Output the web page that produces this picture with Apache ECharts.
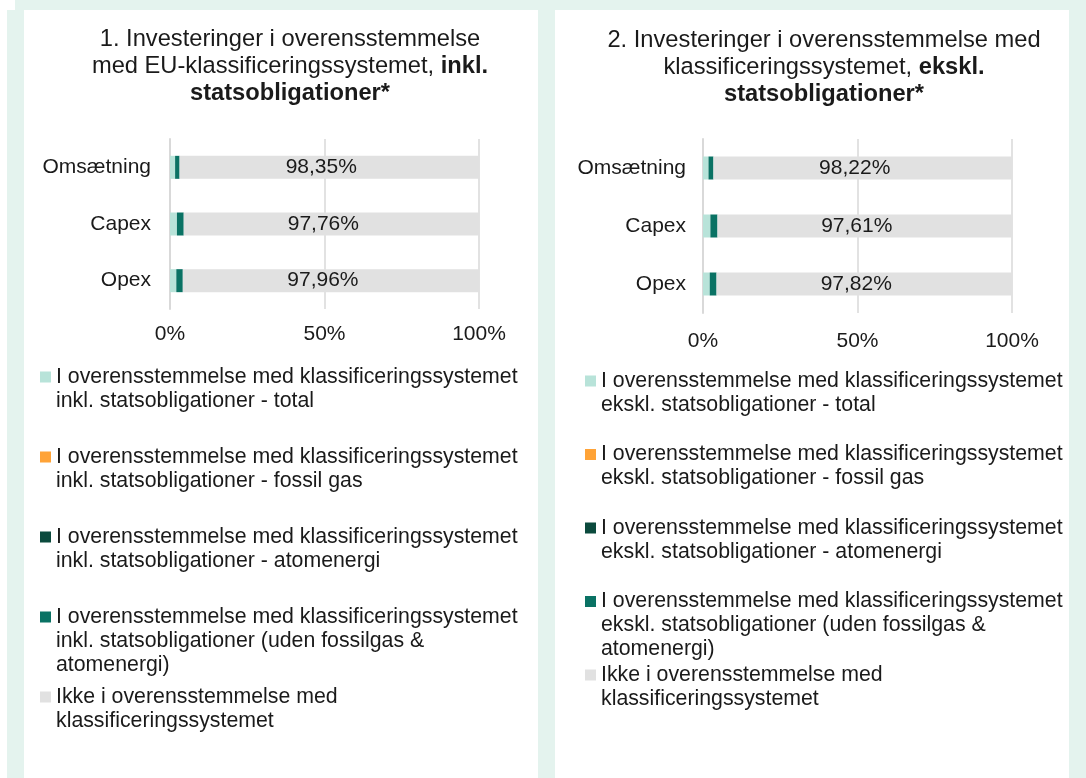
<!DOCTYPE html>
<html>
<head>
<meta charset="utf-8">
<title>Investeringer i overensstemmelse med klassificeringssystemet</title>
<script src="https://cdn.jsdelivr.net/npm/echarts@6/dist/echarts.min.js"></script>
<style>
  html, body { margin: 0; padding: 0; background: #ffffff; }
  #main { width: 1086px; height: 778px; }
</style>
</head>
<body>
<div id="main"></div>
<script>
// kategorier og akse
const categories = ['Omsætning', 'Capex', 'Opex'];
const xTicks = [0, 50, 100];

// panel 1 - inkl. statsobligationer
const p1Total = [1.65, 2.24, 2.04];
const p1Fossil = [0, 0, 0];
const p1Atom = [0, 0, 0];
const p1Uden = [1.45, 2.2, 2.1];
const p1Ikke = [98.35, 97.76, 97.96];

// panel 2 - ekskl. statsobligationer
const p2Total = [1.78, 2.39, 2.18];
const p2Fossil = [0, 0, 0];
const p2Atom = [0, 0, 0];
const p2Uden = [1.6, 2.3, 2.2];
const p2Ikke = [98.22, 97.61, 97.82];

const p1Names = [
  'I overensstemmelse med klassificeringssystemet\ninkl. statsobligationer - total',
  'I overensstemmelse med klassificeringssystemet\ninkl. statsobligationer - fossil gas',
  'I overensstemmelse med klassificeringssystemet\ninkl. statsobligationer - atomenergi',
  'I overensstemmelse med klassificeringssystemet\ninkl. statsobligationer (uden fossilgas &\natomenergi)',
  'Ikke i overensstemmelse med\nklassificeringssystemet',
];
const p2Names = [
  'I overensstemmelse med klassificeringssystemet\nekskl. statsobligationer - total',
  'I overensstemmelse med klassificeringssystemet\nekskl. statsobligationer - fossil gas',
  'I overensstemmelse med klassificeringssystemet\nekskl. statsobligationer - atomenergi',
  'I overensstemmelse med klassificeringssystemet\nekskl. statsobligationer (uden fossilgas &\natomenergi)',
  'Ikke i overensstemmelse med\nklassificeringssystemet',
];
const colors = ['#b8e3d9', '#ffa337', '#0b4a3d', '#0a7264', '#e1e1e1'];

const FONT = "'Liberation Sans', Arial, sans-serif";
const TXT = '#1a1a1a';
const FS = 21;

const myChart = echarts.init(document.getElementById('main'));

const buildSeries = (names, values, idx) =>
  names.map((name, i) => ({
    name,
    type: 'bar',
    stack: 'panel' + idx,
    xAxisIndex: idx,
    yAxisIndex: idx,
    barWidth: 23,
    data: values[i],
    itemStyle: { color: colors[i] },
    label: {
      show: i === 4,
      position: 'inside',
      offset: [-8, 0],
      fontFamily: FONT,
      fontSize: FS,
      color: TXT,
      formatter: (p) => p.value.toFixed(2).replace('.', ',') + '%',
    },
  }));

const xAxisBase = (idx, margin) => ({
  type: 'value',
  gridIndex: idx,
  min: xTicks[0],
  max: xTicks[xTicks.length - 1],
  interval: xTicks[1] - xTicks[0],
  axisLine: { show: false },
  axisTick: { show: false },
  splitLine: { lineStyle: { color: '#d9d9d9', width: 1.5 } },
  axisLabel: { fontFamily: FONT, fontSize: FS, color: TXT, margin, formatter: '{value}%' },
});
const yAxisBase = (idx, margin) => ({
  type: 'category',
  gridIndex: idx,
  data: categories,
  inverse: true,
  axisTick: { show: false },
  axisLine: { lineStyle: { color: '#d9d9d9', width: 2 } },
  axisLabel: { fontFamily: FONT, fontSize: FS, color: TXT, margin },
});

// legend: firkant ud for første linje
const legendBase = (names, left, top, gap) => ({
  data: names,
  orient: 'vertical',
  left,
  top,
  padding: 0,
  itemGap: gap,
  itemWidth: 11,
  itemHeight: 72,
  icon: 'path://M0,0h0.01v0.01h-0.01zM0,6.5h11v11h-11zM0,71.99h0.01v0.01h-0.01z',
  selectedMode: false,
  textStyle: { fontFamily: FONT, fontSize: 21.3, lineHeight: 24, color: TXT },
  formatter: (n) => (n.split('\n').length < 3 ? n + '\n ' : n),
});

const titleRich = {
  n: { fontFamily: FONT, fontSize: 23.7, lineHeight: 27, color: TXT, fontWeight: 'normal' },
  b: { fontFamily: FONT, fontSize: 23.7, lineHeight: 27, color: TXT, fontWeight: 'bold' },
};

const options = {
  animation: false,
  graphic: [
    { type: 'rect', z: -10, shape: { x: 15, y: 0, width: 1071, height: 10 }, style: { fill: '#e4f3ee' } },
    { type: 'rect', z: -10, shape: { x: 7, y: 10, width: 1079, height: 768 }, style: { fill: '#e4f3ee' } },
    { type: 'rect', z: -9, shape: { x: 24, y: 10, width: 514, height: 768 }, style: { fill: '#ffffff' } },
    { type: 'rect', z: -9, shape: { x: 555, y: 10, width: 514, height: 768 }, style: { fill: '#ffffff' } },
  ],
  title: [
    {
      text: '{n|1. Investeringer i overensstemmelse}\n{n|med EU-klassificeringssystemet, }{b|inkl.}\n{b|statsobligationer*}',
      left: 290,
      top: 26,
      padding: 0,
      textAlign: 'center',
      textStyle: { rich: titleRich, fontWeight: 'normal' },
    },
    {
      text: '{n|2. Investeringer i overensstemmelse med}\n{n|klassificeringssystemet, }{b|ekskl.}\n{b|statsobligationer*}',
      left: 824,
      top: 27,
      padding: 0,
      textAlign: 'center',
      textStyle: { rich: titleRich, fontWeight: 'normal' },
    },
  ],
  legend: [legendBase(p1Names, 40, 365, 8), legendBase(p2Names, 585, 369, 1.5)],
  grid: [
    { left: 170, right: 607, top: 139, height: 170 },
    { left: 703, right: 74, top: 139, height: 174 },
  ],
  xAxis: [xAxisBase(0, 15), xAxisBase(1, 18)],
  yAxis: [yAxisBase(0, 19), yAxisBase(1, 17)],
  series: [
    ...buildSeries(p1Names, [p1Total, p1Fossil, p1Atom, p1Uden, p1Ikke], 0),
    ...buildSeries(p2Names, [p2Total, p2Fossil, p2Atom, p2Uden, p2Ikke], 1),
  ],
};
myChart.setOption(options);
window.onresize = function () {
  myChart.resize();
};
</script>
</body>
</html>
